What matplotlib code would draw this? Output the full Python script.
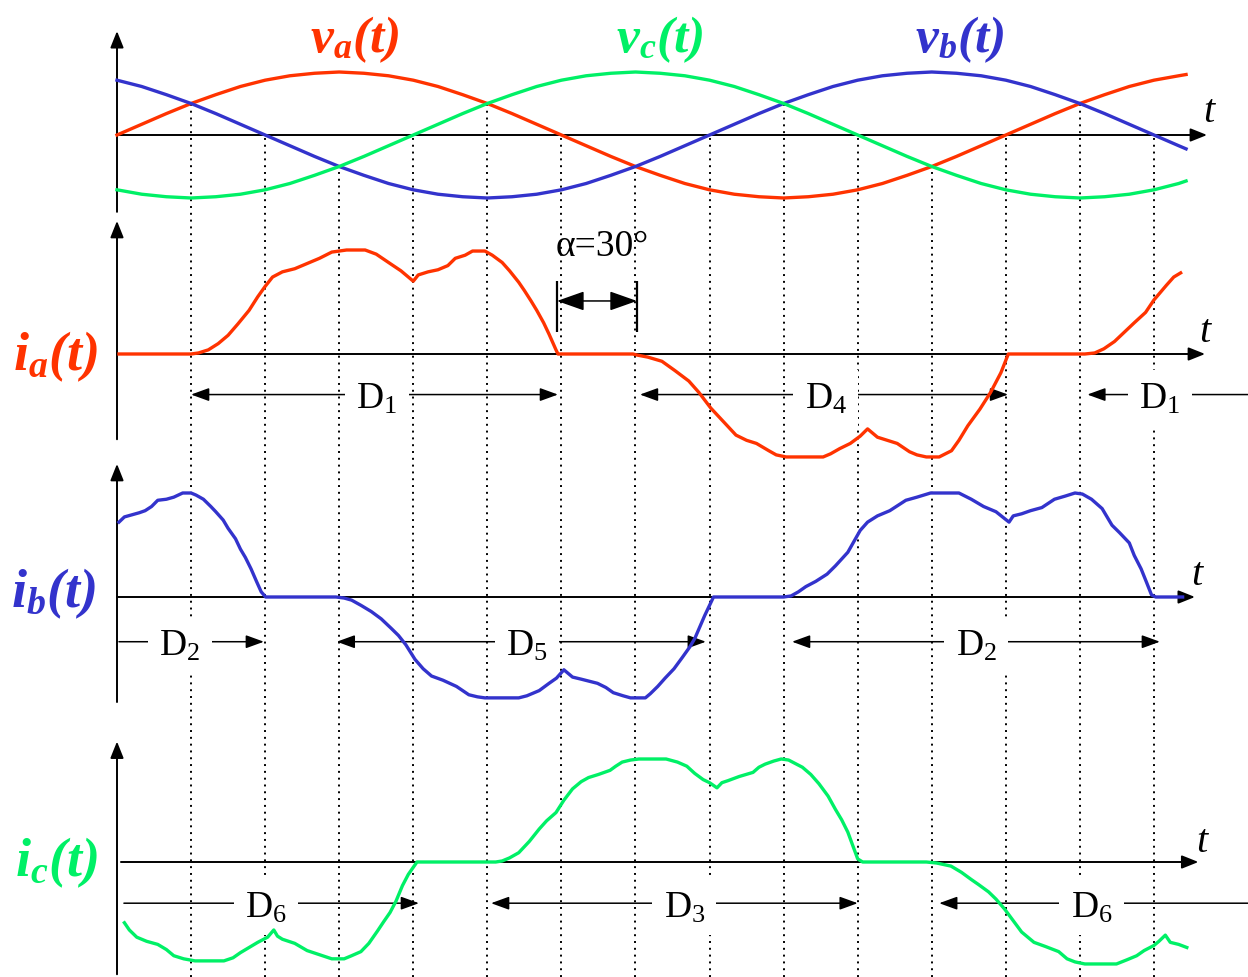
import matplotlib.pyplot as plt

plt.rcParams['font.family'] = ['Liberation Serif', 'DejaVu Serif']
plt.rcParams['mathtext.fontset'] = 'custom'
plt.rcParams['mathtext.rm'] = 'Liberation Serif'
plt.rcParams['mathtext.it'] = 'Liberation Serif:italic'
plt.rcParams['mathtext.bfit'] = 'Liberation Serif:italic:bold'

RED = '#ff3300'
GREEN = '#00f066'
BLUE = '#3333cc'

# supply voltages (per unit), sampled every 10 degrees
v_deg = list(range(0, 431, 10)) + [433]
va = [0, .17, .34, .50, .64, .77, .87, .94, .98, 1.0, .98, .94, .87, .77, .64, .50, .34, .17,
      0, -.17, -.34, -.50, -.64, -.77, -.87, -.94, -.98, -1.0, -.98, -.94, -.87, -.77, -.64, -.50,
      -.34, -.17, 0, .17, .34, .50, .64, .77, .87, .94, .96]
vb = [.87, .77, .64, .50, .34, .17, 0, -.17, -.34, -.50, -.64, -.77, -.87, -.94, -.98, -1.0, -.98, -.94,
      -.87, -.77, -.64, -.50, -.34, -.17, 0, .17, .34, .50, .64, .77, .87, .94, .98, 1.0,
      .98, .94, .87, .77, .64, .50, .34, .17, 0, -.17, -.22]
vc = [-.87, -.94, -.98, -1.0, -.98, -.94, -.87, -.77, -.64, -.50, -.34, -.17, 0, .17, .34, .50, .64, .77,
      .87, .94, .98, 1.0, .98, .94, .87, .77, .64, .50, .34, .17, 0, -.17, -.34, -.50,
      -.64, -.77, -.87, -.94, -.98, -1.0, -.98, -.94, -.87, -.77, -.73]

# commutation instants: where two phases cross or one crosses zero
cross_deg = [30, 60, 90, 120, 150, 180, 210, 240, 270, 300, 330, 360, 390, 420]
cross_val = [.5, 0, -.5, 0, .5, 0, -.5, 0, .5, 0, -.5, 0, .5, 0]

# line currents (per unit)
ia_deg = [0.8, 30, 33, 37, 41, 45, 49, 53.5, 57, 60, 63, 67, 72, 77, 82, 87, 93, 100.5, 105, 110.6,
          115, 119, 120, 122, 126, 130, 134, 137, 141, 144, 149, 152, 156, 159, 162.7, 165, 167.7,
          170, 172.8, 175, 177.8, 178.6, 209, 210.6, 215, 220.7, 226, 231.6, 235.7, 240.5, 246,
          250.7, 255, 259, 264, 267, 271, 286, 289, 292.7, 297, 301, 304, 308, 312, 316, 321, 324,
          327.8, 333, 338, 341, 344.6, 349.5, 353.8, 358, 361, 392, 396, 399.7, 404, 408, 412,
          416.6, 420, 425, 428, 430.8]
ia_val = [0, 0, .01, .04, .10, .18, .29, .42, .55, .65, .74, .79, .82, .87, .92, .98, 1.0, 1.0, .96, .87,
          .80, .72, .70, .76, .79, .81, .85, .92, .95, .99, .99, .95, .88, .80, .69, .61, .51,
          .42, .30, .19, .04, 0, 0, -.01, -.03, -.07, -.16, -.26, -.37, -.52, -.66,
          -.78, -.83, -.86, -.93, -.97, -.99, -.99, -.96, -.91, -.86, -.79, -.72, -.80, -.83, -.86, -.94, -.97,
          -.99, -.99, -.93, -.83, -.69, -.53, -.37, -.18, 0, 0, .01, .05, .12, .21, .30,
          .40, .52, .66, .74, .78]

ib_deg = [0.8, 3, 6, 9, 11.4, 14, 16.5, 20, 23, 26.6, 30, 32, 35, 38, 40, 43, 45, 48, 50, 52, 54.3,
          56.5, 58.4, 60.2, 88.7, 92, 95, 98.8, 103, 107, 111, 114, 117, 120.7, 124, 127.4, 132,
          137.5, 142.5, 146, 149, 162.7, 166, 171, 175, 178, 181, 184.5, 188, 194.6, 198, 201, 205,
          208, 214, 216, 219, 222, 225.6, 229, 232, 234, 238, 241.6, 270, 273, 276, 279, 283, 287.6,
          291, 296, 301, 304, 308, 313, 319.5, 324, 329.5, 341, 346, 351, 356, 361.3, 363, 366.4,
          370, 374.6, 379.7, 384, 388, 391, 394.7, 399, 403, 406, 410, 412, 414.8, 417, 419, 420.7,
          431.6]
ib_val = [.72, .77, .79, .81, .83, .87, .93, .94, .96, 1.0, 1.0, .98, .94, .87, .82, .74, .66, .56, .46, .38, .27,
          .15, .05, 0, 0, -.01, -.03, -.08, -.14, -.21, -.30, -.37, -.46, -.60, -.69, -.76, -.80,
          -.86, -.94, -.96, -.97, -.97, -.95, -.90, -.83, -.78, -.70, -.77, -.79, -.83, -.87, -.92, -.95,
          -.97, -.97, -.93, -.86, -.78, -.69, -.58, -.48, -.40, -.18, 0, 0, .01, .05, .10, .15, .22,
          .30, .43, .64, .72, .78, .83, .93, .96, 1.0, 1.0, .94, .87, .82, .72, .78, .80,
          .83, .86, .94, .97, 1.0, .99, .94, .85, .69, .62, .52, .40, .27, .14, .02, 0,
          0]

ic_deg = [3, 5, 8, 12, 16.5, 20, 23, 27, 31.6, 43.3, 47, 50, 53.5, 57, 61, 63.5, 65, 67, 72, 77, 82,
          87, 92, 95, 98.8, 102, 105.5, 108, 110.6, 113, 115.6, 118, 121.5, 153.4, 156, 159, 162.7,
          167, 171, 174, 177.8, 181, 184.5, 188, 191, 195, 199.7, 202, 204.6, 208, 211.4, 222.4, 227,
          230.8, 234, 237.4, 240, 243, 245, 247.5, 252, 257.6, 260, 262.5, 266, 269, 272, 277.6, 281,
          284.3, 288, 291, 293.5, 296, 298, 300, 302, 327.8, 332, 337.8, 342, 346, 349, 353, 356,
          359.6, 363, 366.4, 371.4, 376, 381.4, 384.8, 388, 392, 404.8, 409, 413, 416, 420, 422,
          424.6, 426.6, 430, 433.3]
ic_val = [-.59, -.66, -.73, -.77, -.80, -.85, -.91, -.94, -.96, -.96, -.93, -.88, -.83, -.78, -.73, -.66, -.72,
          -.75, -.79, -.86, -.90, -.94, -.94, -.91, -.87, -.79, -.67, -.58, -.49, -.38, -.23, -.12, 0, 0,
          .01, .04, .09, .20, .32, .40, .48, .60, .71, .78, .82, .85, .89, .93, .97, .99, 1.0, 1.0, .97,
          .93, .86, .80, .77, .72, .77, .79, .83, .87, .92, .95, .98, 1.0, .99, .92, .85,
          .76, .64, .51, .41, .29, .16, .03, 0, 0, -.01, -.04, -.10, -.17, -.22, -.29, -.36,
          -.46, -.57, -.68, -.78, -.82, -.87, -.94, -.97, -.99, -.99, -.95, -.91, -.86, -.81, -.77,
          -.71, -.78, -.80, -.83]

# conduction intervals: (start, end, label position, diode, arrow style)
spans_a = [(30, 178.6, 105.3, '1', '<|-|>'), (211.8, 360.9, 287, '4', '<|-|>'),
           (393, 458, 422.4, '1', '<|-')]
spans_b = [(0.8, 59.5, 25.5, '2', '-|>'), (89, 238.5, 166, '5', '<|-|>'),
           (273.4, 422.4, 348, '2', '<|-|>')]
spans_c = [(2.8, 122.3, 60.3, '6', '-|>'), (151.5, 300, 229.8, '3', '<|-|>'),
           (333, 458, 394.7, '6', '<|-')]
alpha_deg = (178.2, 210.6)

W, H = 1248, 978
X0, PX_PER_DEG = 117, 2.469

fig = plt.figure(figsize=(W / 100, H / 100), dpi=100)


def panel(zero_px, px_per_unit):
    # transparent full-figure axes: x in degrees, y in per-unit
    ax = fig.add_axes([0, 0, 1, 1])
    ax.set_xlim(-X0 / PX_PER_DEG, (W - X0) / PX_PER_DEG)
    ax.set_ylim((zero_px - H) / px_per_unit, zero_px / px_per_unit)
    ax.set_axis_off()
    return ax


def head(style, hl=0.55, hw=0.2, lw=1.1, scale=20):
    return dict(arrowstyle=f'{style},head_length={hl},head_width={hw}', color='black',
                lw=lw, mutation_scale=scale, shrinkA=0, shrinkB=0)


def axes_arrows(ax, x_start, x_end, y_lo, y_hi):
    ax.annotate('', xy=(x_end, 0), xytext=(x_start, 0), arrowprops=head('-|>', 0.5, 0.2, 1.4), zorder=2)
    ax.annotate('', xy=(0, y_hi), xytext=(0, y_lo), arrowprops=head('-|>', 0.5, 0.2, 1.4), zorder=2)


def spans(ax, y, items):
    for x0, x1, xt, n, style in items:
        if style == '<|-':
            ax.annotate('', xy=(x0, y), xytext=(x1, y), arrowprops=head('-|>'), zorder=3)
        else:
            ax.annotate('', xy=(x1, y), xytext=(x0, y), arrowprops=head(style), zorder=3)
        ax.annotate('D$_{%s}$' % n, xy=(xt, y), xytext=(0, -9.3), textcoords='offset points',
                    ha='center', va='baseline', fontsize=27, zorder=4,
                    bbox=dict(boxstyle='square,pad=0.3', fc='white', ec='none'))


def t_label(ax, x, y):
    ax.text(x, y, '$t$', fontsize=29, ha='center', va='center')


# supply voltages
ax_v = panel(136, 63)
ax_v.vlines(cross_deg, ax_v.get_ylim()[0], cross_val, colors='black', lw=1.4,
            linestyles=[(0, (1, 2.5))], zorder=1)
axes_arrows(ax_v, 0, 441.5, -1.22, 1.65)
ax_v.plot(v_deg, va, color=RED, lw=2.4, zorder=5)
ax_v.plot(v_deg, vb, color=BLUE, lw=2.4, zorder=5)
ax_v.plot(v_deg, vc, color=GREEN, lw=2.4, zorder=5)
ax_v.text(96.4, 1.53, r'$\mathbfit{v_a(t)}$', color=RED, fontsize=37, ha='center', va='center')
ax_v.text(220, 1.53, r'$\mathbfit{v_c(t)}$', color=GREEN, fontsize=37, ha='center', va='center')
ax_v.text(341.4, 1.53, r'$\mathbfit{v_b(t)}$', color=BLUE, fontsize=37, ha='center', va='center')
t_label(ax_v, 442.7, 0.38)

# phase a current
ax_a = panel(355, 104)
axes_arrows(ax_a, 0, 440.7, -0.82, 1.28)
ax_a.plot(ia_deg, ia_val, color=RED, lw=2.4, zorder=5)
spans(ax_a, -0.39, spans_a)
ax_a.vlines(alpha_deg, 0.21, 0.70, colors='black', lw=1.6, zorder=3)
ax_a.annotate('', xy=(alpha_deg[1], 0.51), xytext=(alpha_deg[0], 0.51),
              arrowprops=head('<|-|>', 0.85, 0.3, 1.1), zorder=3)
ax_a.text(sum(alpha_deg) / 2 + 2, 1.04, 'α=30°', fontsize=27, ha='center', va='center')
ax_a.text(-25, -0.02, r'$\mathbfit{i_a(t)}$', color=RED, fontsize=39, ha='center', va='center')
t_label(ax_a, 441, 0.22)

# phase b current
ax_b = panel(598, 104)
axes_arrows(ax_b, 0, 436.6, -1.01, 1.28)
ax_b.plot(ib_deg, ib_val, color=BLUE, lw=2.4, zorder=5)
spans(ax_b, -0.43, spans_b)
ax_b.text(-25.8, 0.04, r'$\mathbfit{i_b(t)}$', color=BLUE, fontsize=39, ha='center', va='center')
t_label(ax_b, 437.8, 0.22)

# phase c current
ax_c = panel(863, 103)
axes_arrows(ax_c, 1.6, 438, -1.09, 1.17)
ax_c.plot(ic_deg, ic_val, color=GREEN, lw=2.4, zorder=5)
spans(ax_c, -0.40, spans_c)
ax_c.text(-24.3, 0.0, r'$\mathbfit{i_c(t)}$', color=GREEN, fontsize=39, ha='center', va='center')
t_label(ax_c, 439.9, 0.20)

fig.savefig('out.png', dpi=100)
